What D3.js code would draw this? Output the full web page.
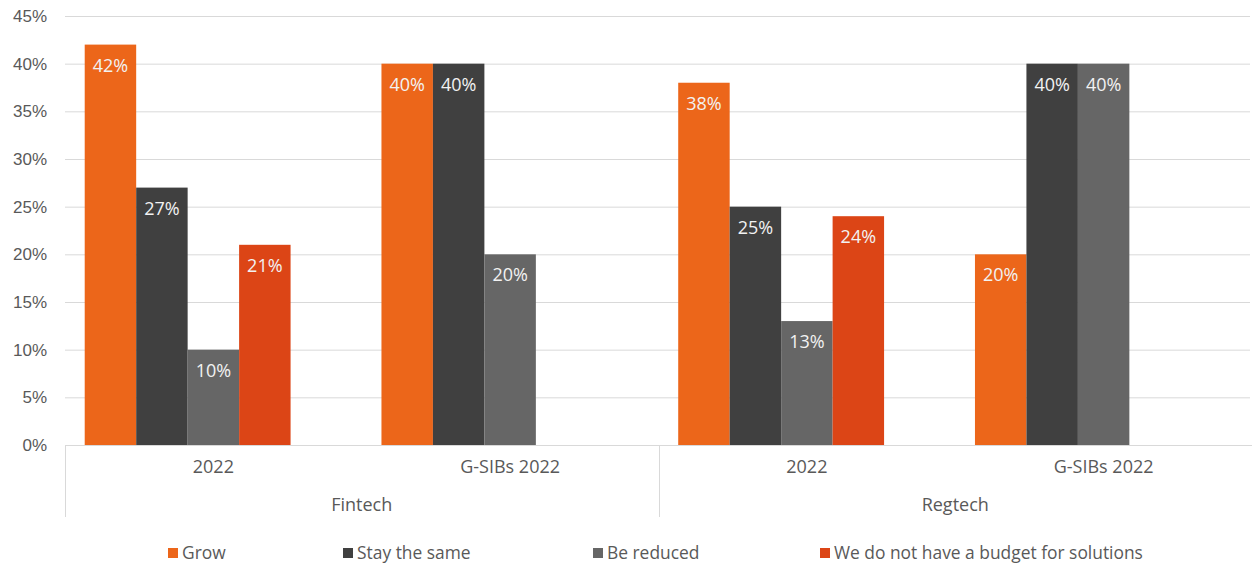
<!DOCTYPE html>
<html><head><meta charset="utf-8">
<script src="https://cdn.jsdelivr.net/npm/d3@7"></script>
<style>body{margin:0;background:#fff;}svg{display:block;font-family:"Open Sans",sans-serif;}</style>
</head><body><svg id="c" width="1252" height="568"></svg>
<script>
const groups = ["Fintech", "Regtech"];
const categories = [
  {group: "Fintech", label: "2022"},
  {group: "Fintech", label: "G-SIBs 2022"},
  {group: "Regtech", label: "2022"},
  {group: "Regtech", label: "G-SIBs 2022"}
];
const series = ["Grow", "Stay the same", "Be reduced", "We do not have a budget for solutions"];
const colors = ["#EC661A", "#404040", "#666666", "#DC4516"];
const values = [
  [42, 27, 10, 21],
  [40, 40, 20, null],
  [38, 25, 13, 24],
  [20, 40, 40, null]
];
const yTicks = [0, 5, 10, 15, 20, 25, 30, 35, 40, 45];

const svg = d3.select("#c");
const L = 65, R = 1252, T = 16, B = 445;
const y = d3.scaleLinear().domain([0, 45]).range([B, T]);
const x0 = d3.scaleBand().domain(d3.range(categories.length)).range([L, R]).padding(0);
// five slots per category (Excel-style layout keeps a trailing empty slot)
const slots = series.concat([""]);
const x1 = d3.scaleBand().domain(slots).range([0, x0.bandwidth()]).paddingInner(0).paddingOuter(0.383);

// grid
const yAxis = d3.axisLeft(y).tickValues(yTicks).tickFormat(d => d + "%").tickSize(-(R - 2 - L)).tickPadding(18);
const gy = svg.append("g").attr("transform", `translate(${L},0)`).call(yAxis);
gy.select(".domain").remove();
gy.selectAll(".tick line").attr("stroke", "#d9d9d9").attr("stroke-width", 1);
gy.selectAll(".tick text").attr("fill", "#595959").style("font-size", "17px").attr("dx", "0");

// bars
const cg = svg.append("g").selectAll("g").data(categories).join("g")
  .attr("transform", (d, i) => `translate(${x0(i)},0)`);
cg.each(function(d, i) {
  const g = d3.select(this);
  series.forEach((s, j) => {
    const v = values[i][j];
    if (v == null) return;
    g.append("rect").attr("x", x1(s)).attr("width", x1.bandwidth())
      .attr("y", y(v)).attr("height", y(0) - y(v)).attr("fill", colors[j]);
    g.append("text").attr("x", x1(s) + x1.bandwidth() / 2).attr("y", y(v) + 27)
      .attr("text-anchor", "middle").attr("fill", "#f2f2f2").style("font-size", "18px").text(v + "%");
  });
});

// category axis
svg.append("line").attr("x1", L).attr("x2", R).attr("y1", B + 0.5).attr("y2", B + 0.5).attr("stroke", "#d9d9d9");
svg.append("g").selectAll("text").data(categories).join("text")
  .attr("x", (d, i) => x0(i) + x0.bandwidth() / 2).attr("y", 473)
  .attr("text-anchor", "middle").attr("fill", "#595959").style("font-size", "18px").text(d => d.label);
const groupExtent = groups.map(gname => {
  const idx = categories.map((c, i) => c.group === gname ? i : -1).filter(i => i >= 0);
  return {name: gname, x0: x0(idx[0]), x1: x0(idx[idx.length - 1]) + x0.bandwidth()};
});
svg.append("g").selectAll("line").data(groupExtent).join("line")
  .attr("x1", d => Math.round(d.x0) + 0.5).attr("x2", d => Math.round(d.x0) + 0.5)
  .attr("y1", B).attr("y2", 517).attr("stroke", "#d9d9d9");
svg.append("g").selectAll("text").data(groupExtent).join("text")
  .attr("x", d => (d.x0 + d.x1) / 2).attr("y", 511)
  .attr("text-anchor", "middle").attr("fill", "#595959").style("font-size", "18px").text(d => d.name);

// legend
const legendX = [168, 343, 593, 820];
const lg = svg.append("g").selectAll("g").data(series).join("g")
  .attr("transform", (d, i) => `translate(${legendX[i]},553)`);
lg.append("rect").attr("x", 0).attr("y", -5).attr("width", 10).attr("height", 10).attr("fill", (d, i) => colors[i]);
lg.append("text").attr("x", 14).attr("y", 6).attr("fill", "#595959").style("font-size", "17.4px").text(d => d);
</script></body></html>
